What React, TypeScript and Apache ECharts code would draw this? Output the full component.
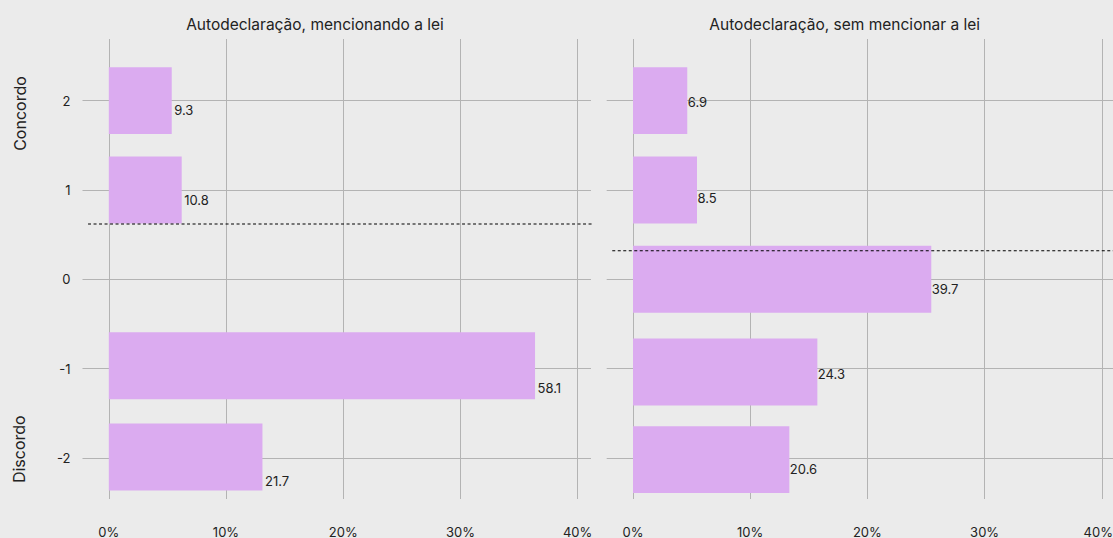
import React, { useEffect, useRef } from "react";
import * as echarts from "echarts";

// ---- data ----
const panelTitles = ["Autodeclaração, mencionando a lei", "Autodeclaração, sem mencionar a lei"];
const sideLabels = ["Concordo", "Discordo"];
const yTicks = [-2, -1, 0, 1, 2];
const xTicks = [0, 10, 20, 30, 40];

// left panel (mencionando a lei)
const leftBarY = [2, 1, -0.97, -1.99];
const leftBarLen = [5.37, 6.22, 36.37, 13.11];
const leftLabels = ["9.3", "10.8", "58.1", "21.7"];
const leftLabelY = [1.9, 0.89, -1.22, -2.26];
const leftMean = 0.618;

// right panel (sem mencionar a lei)
const rightBarY = [2, 1, 0, -1.04, -2.02];
const rightBarLen = [4.63, 5.46, 25.45, 15.73, 13.34];
const rightLabels = ["6.9", "8.5", "39.7", "24.3", "20.6"];
const rightLabelY = [1.98, 0.906, -0.11, -1.06, -2.12];
const rightMean = 0.319;

const meanLineX = [-1.77, 42.25];

// ---- style ----
const BG = "#ebebeb";
const GRID = "#b3b3b3";
const BAR = "#dbabf0";
const TXT = "#222222";
const FONT = "Inter, 'Noto Sans', sans-serif";
const BAR_H = 0.75;
const PX_PER_UNIT = 11.72;
const X_MIN = -2.244;

export default function App() {
  const ref = useRef<HTMLDivElement>(null);
  useEffect(() => {
    if (!ref.current) return;
    const chart = echarts.init(ref.current, undefined, { renderer: "svg" });

    const panels = [
      { barY: leftBarY, len: leftBarLen, labels: leftLabels, labelY: leftLabelY, mean: leftMean, left: 82.5, width: 508.5, lblOff: 2.5 },
      { barY: rightBarY, len: rightBarLen, labels: rightLabels, labelY: rightLabelY, mean: rightMean, left: 606.7, width: 506.3, lblOff: 0.5 },
    ];

    const grids = panels.map((p) => ({
      left: p.left,
      top: 39,
      width: p.width,
      height: 460,
      containLabel: false,
      outerBoundsMode: "none",
    }));
    const lastTick = xTicks[xTicks.length - 1];
    const xAxes = panels.map((p, i) => ({
      type: "value",
      gridIndex: i,
      min: X_MIN,
      max: X_MIN + p.width / PX_PER_UNIT,
      axisLine: { show: false },
      axisTick: { show: false, customValues: xTicks },
      axisLabel: {
        customValues: xTicks,
        formatter: (v: number) => (i === 1 && v === lastTick ? `{edge|${v}%}` : `${v}%`),
        rich: {
          edge: { padding: [0, 7, 0, 0], fontSize: 13, color: TXT, fontFamily: FONT },
        },
        margin: 26,
        fontSize: 13,
        color: TXT,
        fontFamily: FONT,
      },
      splitLine: { show: true, lineStyle: { color: GRID, width: 1 } },
    }));
    const yAxes = panels.map((p, i) => ({
      type: "value",
      gridIndex: i,
      min: -2.461,
      max: 2.69,
      axisLine: { show: false },
      axisTick: { show: false, customValues: yTicks },
      axisLabel: {
        show: i === 0,
        customValues: yTicks,
        margin: 12,
        fontSize: 13,
        color: TXT,
        fontFamily: FONT,
      },
      splitLine: { show: true, lineStyle: { color: GRID, width: 1 } },
    }));

    const series: any[] = [];
    panels.forEach((p, i) => {
      series.push({
        type: "custom",
        xAxisIndex: i,
        yAxisIndex: i,
        silent: true,
        clip: false,
        data: p.len.map((v, k) => [v, p.barY[k], p.labelY[k]]),
        renderItem: (params: any, api: any) => {
          const len = api.value(0);
          const y = api.value(1);
          const ly = api.value(2);
          const s = api.coord([0, y]);
          const e = api.coord([len, y]);
          const h = api.size([0, BAR_H])[1];
          const lp = api.coord([len, ly]);
          return {
            type: "group",
            children: [
              {
                type: "rect",
                shape: { x: s[0], y: s[1] - h / 2, width: e[0] - s[0], height: h },
                style: { fill: BAR },
              },
              {
                type: "text",
                x: lp[0] + p.lblOff,
                y: lp[1],
                style: {
                  text: p.labels[params.dataIndex],
                  fill: TXT,
                  fontSize: 13,
                  fontFamily: FONT,
                  align: "left",
                  verticalAlign: "middle",
                  textAlign: "left",
                  textVerticalAlign: "middle",
                },
              },
            ],
          };
        },
      });
      series.push({
        type: "line",
        xAxisIndex: i,
        yAxisIndex: i,
        silent: true,
        clip: false,
        symbol: "none",
        data: meanLineX.map((x) => [x, p.mean]),
        lineStyle: { color: "#000", width: 1.1, type: [3, 2.5] },
        z: 5,
      });
    });

    const textStyle = (t: string, size: number) => ({
      text: t,
      fill: TXT,
      fontSize: size,
      fontFamily: FONT,
      align: "center",
      verticalAlign: "middle",
      textAlign: "center",
      textVerticalAlign: "middle",
    });

    chart.setOption({
      animation: false,
      backgroundColor: BG,
      grid: grids,
      xAxis: xAxes,
      yAxis: yAxes,
      series,
      graphic: [
        { type: "text", x: 315, y: 24, style: textStyle(panelTitles[0], 15.5) },
        { type: "text", x: 844.7, y: 24, style: textStyle(panelTitles[1], 15.5) },
        { type: "text", x: 19.5, y: 113.5, rotation: Math.PI / 2, style: textStyle(sideLabels[0], 16) },
        { type: "text", x: 19, y: 449.2, rotation: Math.PI / 2, style: textStyle(sideLabels[1], 16) },
      ],
    });
    return () => chart.dispose();
  }, []);
  return (
    <div
      ref={ref}
      style={{ position: "fixed", left: 0, top: 0, width: 1113, height: 538 }}
    />
  );
}
